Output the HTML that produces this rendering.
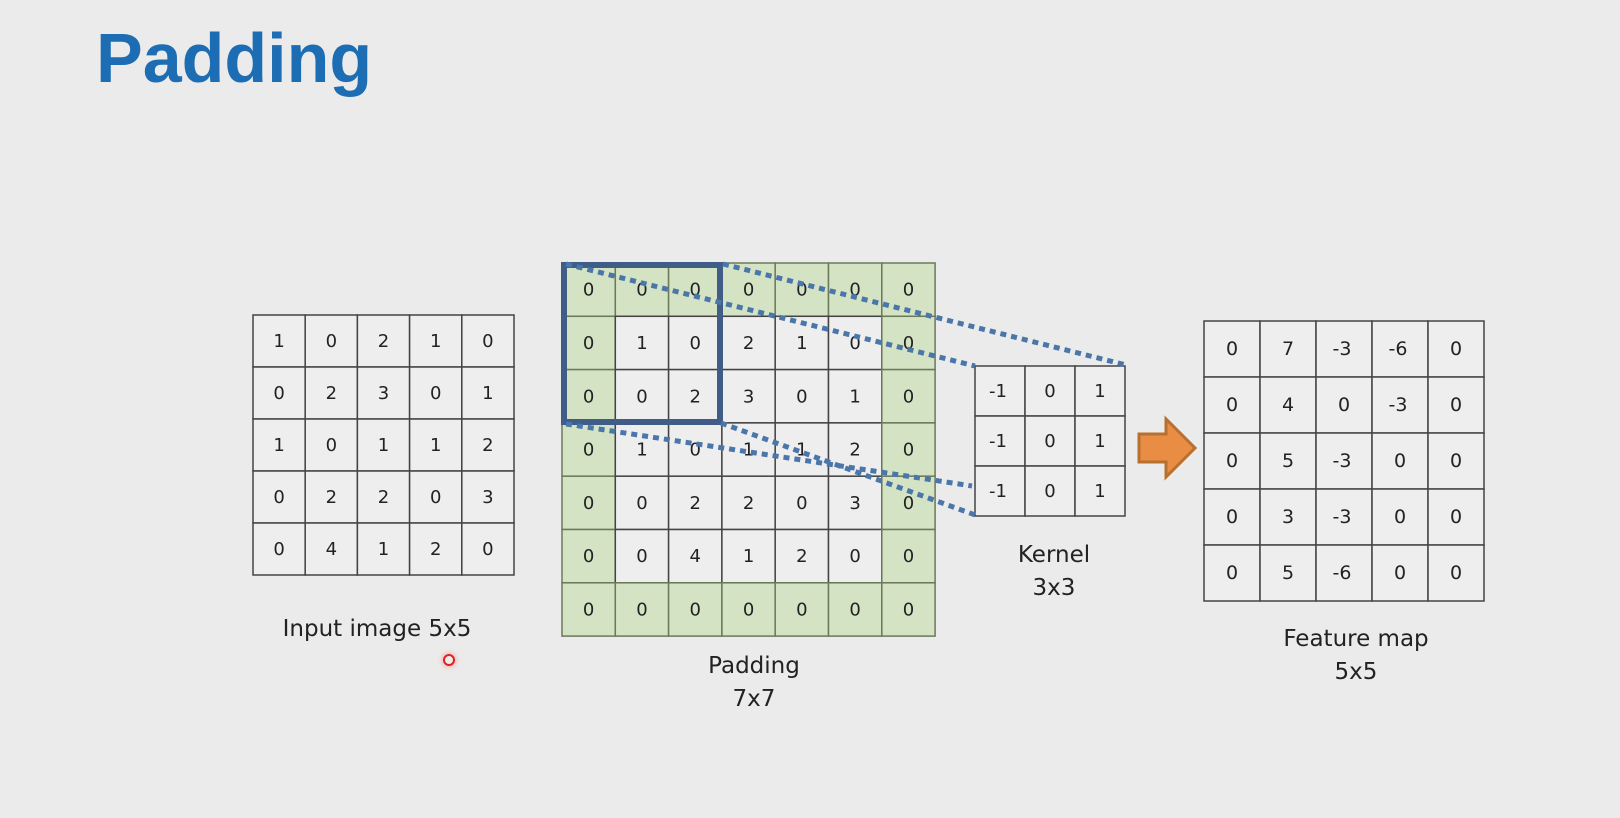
<!DOCTYPE html>
<html><head><meta charset="utf-8"><style>
body{margin:0;width:1620px;height:818px;background:#ebebeb;overflow:hidden;font-family:"DejaVu Sans","Liberation Sans",sans-serif}
.t{position:absolute;color:#222;font-size:23px;text-align:center;line-height:33px}
</style></head><body>
<div style="position:absolute;left:96px;top:18px;font-family:'Liberation Sans',sans-serif;font-weight:bold;font-size:70px;color:#1c6db3">Padding</div>
<svg id="s" width="1620" height="818" style="position:absolute;left:0;top:0"></svg>
<div class="t" style="left:237px;top:613px;width:280px">Input image 5x5</div>
<div style="position:absolute;left:443px;top:654px;width:8px;height:8px;border:2px solid #d22;border-radius:50%;box-shadow:0 0 6px #f88"></div>
<div class="t" style="left:654px;top:650px;width:200px">Padding<br>7x7</div>
<div class="t" style="left:954px;top:539px;width:200px">Kernel<br>3x3</div>
<div class="t" style="left:1236px;top:623px;width:240px">Feature map<br>5x5</div>
<script>
const inputVals=[[1,0,2,1,0],[0,2,3,0,1],[1,0,1,1,2],[0,2,2,0,3],[0,4,1,2,0]];
const kernelVals=[[-1,0,1],[-1,0,1],[-1,0,1]];
const featureVals=[[0,7,-3,-6,0],[0,4,0,-3,0],[0,5,-3,0,0],[0,3,-3,0,0],[0,5,-6,0,0]];
const padVals=[];for(let r=0;r<7;r++){padVals.push([]);for(let c=0;c<7;c++)padVals[r].push(r>0&&r<6&&c>0&&c<6?inputVals[r-1][c-1]:0);}
const s=document.getElementById('s');const NS='http://www.w3.org/2000/svg';
function el(t,a){const e=document.createElementNS(NS,t);for(const k in a)e.setAttribute(k,a[k]);s.appendChild(e);return e;}
function grid(name,vals,x,y,cw,ch,green,fs){const n=vals.length,m=vals[0].length;
for(let r=0;r<n;r++)for(let c=0;c<m;c++){const g=green&&(r==0||c==0||r==n-1||c==m-1);
const rc=el('rect',{x:x+c*cw,y:y+r*ch,width:cw,height:ch,fill:g?'#d4e3c4':'#eeeeee',stroke:g?'#6b7a5a':'#444','stroke-width':1.5});


const t=el('text',{x:x+c*cw+cw/2-(vals[r][c]<0?2:0),y:y+r*ch+ch/2+6,'text-anchor':'middle','font-size':fs,fill:'#222','font-family':'DejaVu Sans,Liberation Sans,sans-serif'});
t.textContent=vals[r][c];

}}
grid('input',inputVals,253,315,52.2,52,false,18);
grid('padding',padVals,562,263,53.3,53.3,true,18);
grid('kernel',kernelVals,975,366,50,50,false,18);
grid('feature',featureVals,1204,321,56,56,false,19);
const box=el('rect',{x:564,y:265,width:156,height:157,fill:'none',stroke:'#3f5d86','stroke-width':6});


const L=[[566,264,975,366],[723,264,1126,365],[566,424,972,486],[721,423,978,516]];
L.forEach(l=>{const e=el('line',{x1:l[0],y1:l[1],x2:l[2],y2:l[3],stroke:'#4a76aa','stroke-width':5,'stroke-dasharray':'6 5'});

});
const a=el('polygon',{points:'1139,434 1166,434 1166,419 1195,448 1166,477 1166,462 1139,462',fill:'#e98d45',stroke:'#b8702e','stroke-width':3});


</script>
</body></html>
